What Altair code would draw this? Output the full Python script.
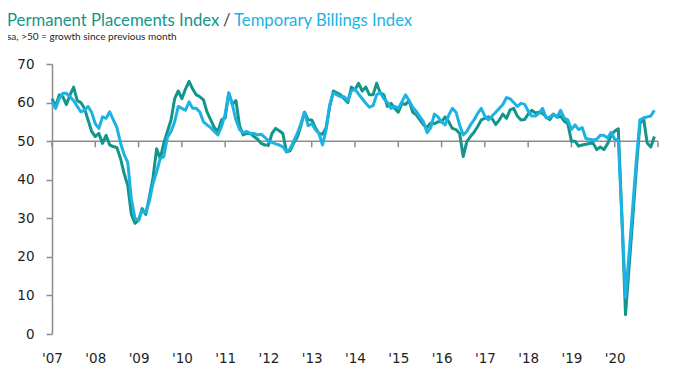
import altair as alt
import pandas as pd

# ---------------- data (monthly, Jan 2007 - Dec 2020) ----------------
perm_2007 = [61, 59, 62, 61.5, 59.5, 62, 64, 60.5, 60, 58.5, 55.5, 52.5]
perm_2008 = [51.2, 52, 49.4, 51.5, 49, 48.6, 48.3, 45.5, 41.6, 38.5, 31, 28.7]
perm_2009 = [29.5, 32.5, 31, 35.5, 40.5, 48, 45.5, 49.5, 52.5, 55.5, 61, 63]
perm_2010 = [61, 63.5, 65.5, 63.5, 62, 61.5, 60.7, 57.5, 55.5, 53.5, 52.5, 55.5]
perm_2011 = [56, 62.5, 59.5, 60.5, 54, 51.6, 52, 52, 51.2, 50.5, 49.4, 49]
perm_2012 = [49, 52, 53.3, 52.7, 52, 47.2, 47.5, 49.5, 51, 54, 57.5, 55.5]
perm_2013 = [55.5, 53.5, 52, 51.8, 53.5, 59, 63, 62.5, 62, 61, 60, 64]
perm_2014 = [63.3, 65, 63, 64, 62, 62, 65, 62.5, 62, 59, 59.8, 58.5]
perm_2015 = [57.5, 59.8, 59.5, 60.5, 57.5, 56.8, 55.5, 54.2, 53.6, 54.7, 54.5, 55]
perm_2016 = [55, 56.3, 55, 53.3, 53, 52, 46, 49.9, 51.2, 52.3, 53.8, 55.5]
perm_2017 = [55.9, 56.3, 55.9, 54.3, 55.5, 57, 55.9, 58.1, 58.5, 56.5, 55.5, 55.6]
perm_2018 = [57, 58, 57.3, 57.5, 57.2, 56.3, 55.6, 57, 56.2, 56.5, 55.2, 54.5]
perm_2019 = [50, 50, 48.7, 49, 49.2, 49.4, 49.5, 47.8, 48.5, 47.8, 49.3, 51.5]
perm_2020 = [52.6, 53.2, 30, 5, 17.5, 30, 43, 54.5, 56, 49.5, 48.5, 51.2]

temp_2007 = [60.2, 58.5, 61, 62.4, 62.4, 61.5, 60.5, 59, 57.6, 58, 59, 57.5]
temp_2008 = [54.5, 53.3, 56.3, 55.9, 57.6, 55.5, 53.5, 49.5, 46.5, 44.5, 35, 30]
temp_2009 = [29.5, 32, 31.5, 34.5, 39, 42, 45.5, 46, 51, 52.5, 55, 59]
temp_2010 = [58.5, 58, 60.2, 58.5, 58.5, 57.5, 55, 54.2, 53.5, 52.5, 51.6, 53.8]
temp_2011 = [57, 62.5, 59.5, 55.5, 53, 52.2, 52.5, 52, 52, 51.6, 51.8, 51]
temp_2012 = [50, 49.7, 49.3, 49, 48.5, 47.3, 48, 50, 52, 54.5, 57.5, 54]
temp_2013 = [54.5, 53, 52, 49, 53, 59.5, 62.5, 62, 61.5, 61.5, 60.5, 63]
temp_2014 = [63.5, 62.2, 61, 59.8, 58.8, 59.2, 62, 62.6, 61, 60, 58.5, 59]
temp_2015 = [58.5, 60.2, 62, 60.5, 58.8, 57.7, 56.3, 55, 52.2, 53.5, 57, 56.3]
temp_2016 = [55, 54.2, 56.8, 58.5, 57.5, 54.2, 51.6, 52.5, 54.2, 55.5, 57.2, 58.5]
temp_2017 = [56.5, 55.5, 56.5, 57.5, 58.5, 59.5, 61.3, 61, 60, 59, 59.8, 59.6]
temp_2018 = [57.8, 56.5, 56.5, 57.2, 58.5, 56, 56.2, 57, 56.2, 58, 56, 55.5]
temp_2019 = [53, 54.2, 53, 53.5, 50.7, 50.5, 50.3, 50.5, 51.5, 51.5, 50.8, 52.3]
temp_2020 = [50.5, 50.3, 30, 9.5, 21, 33, 45, 55.5, 56, 56.3, 56.5, 58]

label_years = list(range(2007, 2021))
tick_years = list(range(2007, 2022))
y_ticks = [0, 10, 20, 30, 40, 50, 60, 70]
ref_value = 50

title_perm = "Permanent Placements Index"
title_sep = "/"
title_temp = "Temporary Billings Index"
subtitle = "sa, >50 = growth since previous month"

perm = (perm_2007 + perm_2008 + perm_2009 + perm_2010 + perm_2011 + perm_2012 +
        perm_2013 + perm_2014 + perm_2015 + perm_2016 + perm_2017 + perm_2018 +
        perm_2019 + perm_2020)
temp = (temp_2007 + temp_2008 + temp_2009 + temp_2010 + temp_2011 + temp_2012 +
        temp_2013 + temp_2014 + temp_2015 + temp_2016 + temp_2017 + temp_2018 +
        temp_2019 + temp_2020)

df = pd.DataFrame({
    "t": [2007 + i / 12 for i in range(len(perm))],
    "perm": perm,
    "temp": temp,
})
ref_df = pd.DataFrame({"x": [tick_years[0]], "x2": [tick_years[-1]], "y": [ref_value]})
tick_df = pd.DataFrame({"x": tick_years, "y": [ref_value] * len(tick_years),
                        "y2": [ref_value - 1.6] * len(tick_years)})

GREEN = "#12968a"
BLUE = "#1cb2e4"
GREY = "#8c8c8c"
LABEL = "#1e1e1e"

x_scale = alt.Scale(domain=[tick_years[0], tick_years[-1]], nice=False, zero=False)
y_scale = alt.Scale(domain=[0, 70], nice=False, zero=True)

x_axis = alt.Axis(values=label_years,
                  labelExpr="\"'\" + substring(toString(datum.value), 2, 4)",
                  domain=False, ticks=False, grid=False, title=None,
                  labelFont="DejaVu Sans", labelFontSize=13.5, labelColor=LABEL,
                  labelPadding=17, labelOverlap=False, labelFlush=False)
y_axis = alt.Axis(values=y_ticks, grid=False, title=None, labelOverlap=False,
                  labelFlush=False,
                  domainColor=GREY, domainWidth=1.5, tickColor=GREY, tickWidth=1.5,
                  tickSize=6, labelPadding=12,
                  labelFont="DejaVu Sans", labelFontSize=13.5, labelColor=LABEL)

X = lambda f: alt.X(f, scale=x_scale, axis=x_axis)
Y = lambda f: alt.Y(f, scale=y_scale, axis=y_axis)

ref_line = alt.Chart(ref_df).mark_rule(color=GREY, strokeWidth=1.5).encode(
    x=X("x:Q"), x2="x2:Q", y=Y("y:Q"))
ticks = alt.Chart(tick_df).mark_rule(color=GREY, strokeWidth=1.5).encode(
    x=X("x:Q"), y=Y("y:Q"), y2="y2:Q")

base = alt.Chart(df)
perm_line = base.mark_line(color=GREEN, strokeWidth=3, strokeJoin="round").encode(
    x=X("t:Q"), y=Y("perm:Q"))
temp_line = base.mark_line(color=BLUE, strokeWidth=3, strokeJoin="round").encode(
    x=X("t:Q"), y=Y("temp:Q"))

def text_layer(s, x, y, color, size, font="Lato"):
    return alt.Chart(pd.DataFrame({"s": [s]})).mark_text(
        align="left", baseline="alphabetic", font=font, fontSize=size, color=color
    ).encode(x=alt.value(x), y=alt.value(y), text="s:N")

t1 = text_layer(title_perm, -45, -38, GREEN, 16.7)
t2 = text_layer(title_sep, 171, -38, "#444444", 16.7)
t3 = text_layer(title_temp, 182, -38, BLUE, 16.7)
t4 = text_layer(subtitle, -45, -24, LABEL, 10)

chart = alt.layer(ref_line, ticks, perm_line, temp_line, t1, t2, t3, t4).properties(
    width=606, height=270,
    autosize=alt.AutoSizeParams(type="none"),
    padding={"left": 44, "top": 56, "right": 26, "bottom": 36},
    background="white",
).configure_view(strokeWidth=0)

chart.save("out.html", embed_options={"renderer": "svg", "actions": False})
